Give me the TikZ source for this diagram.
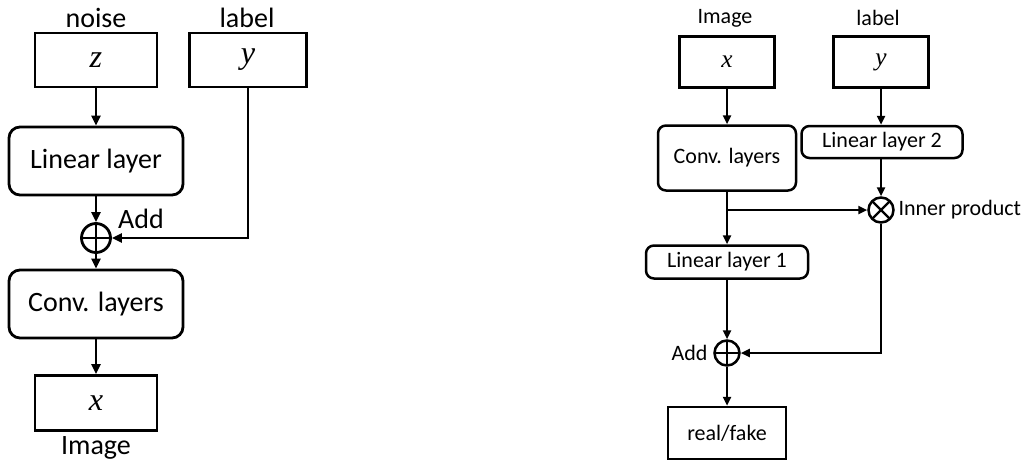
\documentclass[tikz,border=0pt]{standalone}
\usepackage{fontspec}
\setmainfont{Carlito}
\newfontfamily\varfont[Scale=1.15]{Liberation Serif}
\newcommand{\var}[1]{{\varfont\itshape #1}}
\usetikzlibrary{arrows.meta}
\begin{document}
\begin{tikzpicture}[x=1pt,y=-1pt,
  big/.style={font=\fontsize{28}{32}\selectfont},
  small/.style={font=\fontsize{22}{26}\selectfont},
  sqL/.style={draw, rectangle, line width=2.8pt, inner sep=0pt, big},
  rndL/.style={draw, rectangle, rounded corners=11pt, line width=2.8pt, inner sep=0pt, big},
  sqR/.style={draw, rectangle, line width=2.5pt, inner sep=0pt, small},
  rndR/.style={draw, rectangle, rounded corners=8pt, line width=2.5pt, inner sep=0pt, small},
  arrL/.style={line width=2.8pt, -{Triangle[length=10pt,width=9pt]}},
  arrR/.style={line width=2.5pt, -{Triangle[length=9pt,width=8pt]}},
  addop/.style={draw, circle, inner sep=0pt,
    path picture={\draw[line width=2.4pt]
      (path picture bounding box.north) -- (path picture bounding box.south)
      (path picture bounding box.west) -- (path picture bounding box.east);}},
  mulop/.style={draw, circle, inner sep=0pt,
    path picture={\draw[line width=2.4pt]
      (path picture bounding box.north west) -- (path picture bounding box.south east)
      (path picture bounding box.south west) -- (path picture bounding box.north east);}}
]
\useasboundingbox (0,0) rectangle (1029,464);

% ---- generator: noise and label combined before the conv stack ----
\node[big] (tnoise) at (96,18) {noise};
\node[sqL, minimum width=122, minimum height=54] (z) at (96,60) {\var{z}};
\node[big] (tlabelL) at (247,18) {label};
\node[sqL, minimum width=117, minimum height=54] (yL) at (248,60) {\var{y}};
\node[rndL, minimum width=174, minimum height=68] (linL) at (96,161) {Linear layer};
\node[addop, line width=2.8pt, minimum size=29] (addL) at (96,238) {};
\node[big] (taddL) at (141,219) {Add};
\node[rndL, minimum width=174, minimum height=68] (convL) at (96,304) {Conv. layers};
\node[sqL, minimum width=122, minimum height=55] (xL) at (96,403) {\var{x}};
\node[big] (timgL) at (96,448) {Image};

\draw[arrL] (z) -- (linL);
\draw[arrL] (linL) -- (addL);
\draw[arrL] (yL.south) |- (addL.east);
\draw[arrL] (addL) -- (convL);
\draw[arrL] (convL) -- (xL);

% ---- discriminator with projection of the label ----
\node[small] (timgR) at (725,18) {Image};
\node[sqR, minimum width=95, minimum height=51] (xR) at (727,62) {\var{x}};
\node[small] (tlabelR) at (878,18) {label};
\node[sqR, minimum width=95, minimum height=51] (yR) at (881,62) {\var{y}};
\node[rndR, minimum width=138, minimum height=65] (convR) at (727,158) {Conv. layers};
\node[rndR, minimum width=161, minimum height=32] (lin2) at (882,142) {Linear layer 2};
\node[mulop, line width=2.5pt, minimum size=25] (ip) at (881,210) {};
\node[small, anchor=west] (tip) at (895,210) {Inner product};
\node[rndR, minimum width=162, minimum height=33] (lin1) at (727,262) {Linear layer 1};
\node[addop, line width=2.5pt, minimum size=25] (addR) at (727,353) {};
\node[small, anchor=east] (taddR) at (711,353) {Add};
\node[sqR, minimum width=118, minimum height=52] (rf) at (727,433) {real/fake};

\coordinate (br) at (convR.south |- ip);
\draw[arrR] (xR) -- (convR);
\draw[arrR] (yR.south) -- (lin2.north -| yR.south);
\draw[arrR] (lin2.south -| ip) -- (ip);
\draw[arrR] (convR) -- (lin1);
\draw[arrR] (br) -- (ip.west);
\draw[arrR] (lin1) -- (addR);
\draw[arrR] (ip.south) |- (addR.east);
\draw[arrR] (addR) -- (rf);
\end{tikzpicture}
\end{document}
